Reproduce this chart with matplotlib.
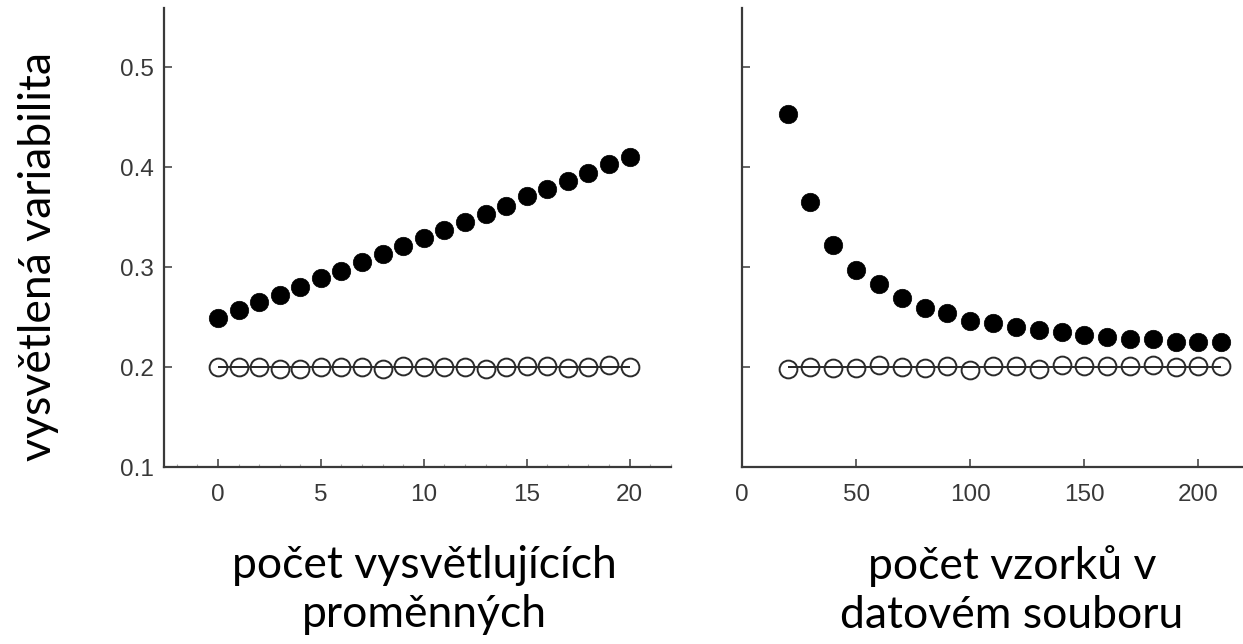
import matplotlib
matplotlib.use("Agg")
import matplotlib.pyplot as plt
from matplotlib.ticker import MultipleLocator

# ---------------- data ----------------
n_vars = list(range(0, 21))
explained_vars = [0.249, 0.257, 0.265, 0.272, 0.280, 0.289, 0.296, 0.305, 0.313, 0.321,
                  0.329, 0.337, 0.345, 0.353, 0.361, 0.371, 0.378, 0.386, 0.394, 0.403, 0.410]
true_vars = [0.200, 0.200, 0.200, 0.198, 0.198, 0.200, 0.200, 0.200, 0.198, 0.201,
             0.200, 0.200, 0.200, 0.198, 0.200, 0.201, 0.201, 0.199, 0.200, 0.202, 0.200]

n_samples = list(range(20, 211, 10))
explained_samples = [0.453, 0.365, 0.322, 0.297, 0.283, 0.269, 0.259, 0.254, 0.246, 0.244,
                     0.240, 0.237, 0.235, 0.232, 0.230, 0.228, 0.228, 0.225, 0.225, 0.225]
true_samples = [0.198, 0.200, 0.199, 0.199, 0.202, 0.200, 0.199, 0.201, 0.197, 0.201,
                0.201, 0.198, 0.202, 0.201, 0.201, 0.201, 0.202, 0.200, 0.201, 0.201]
true_level = 0.2

yticks = [0.1, 0.2, 0.3, 0.4, 0.5]
left_xticks = [0, 5, 10, 15, 20]
right_xticks = [0, 50, 100, 150, 200]

ylabel = "vysvětlená variabilita"
xlabel_left = "počet vysvětlujících\nproměnných"
xlabel_right = "počet vzorků v\ndatovém souboru"

# ---------------- figure ----------------
W, H = 1243, 644
fig = plt.figure(figsize=(W / 100, H / 100), dpi=100)

def px_axes(x0, x1, ytop, ybot):
    return fig.add_axes([x0 / W, (H - ybot) / H, (x1 - x0) / W, (ybot - ytop) / H])

axL = px_axes(163.5, 670.7, 8, 467)
axR = px_axes(742, 1243, 8, 467)

spine_col = "#3a3a3a"
tick_font = dict(family="Liberation Sans", size=17.5, color="#383838")
label_font = dict(family=["Lato", "DejaVu Sans"], size=32, color="black")

ms_fill = 13.3
ms_open = 12.8

for ax, xs, ys_f, ys_o in [(axL, n_vars, explained_vars, true_vars),
                            (axR, n_samples, explained_samples, true_samples)]:
    ax.hlines(true_level, xs[0], xs[-1], color="black", lw=1.2, zorder=2)
    ax.plot(xs, ys_o, "o", ms=ms_open, mfc="none", mec="#2a2a2a", mew=1.4,
            ls="none", zorder=3)
    ax.plot(xs, ys_f, "o", ms=ms_fill, mfc="black", mec="black", mew=0.5,
            ls="none", zorder=4)
    for s in ["top", "right"]:
        ax.spines[s].set_visible(False)
    for s in ["left", "bottom"]:
        ax.spines[s].set_color(spine_col)
        ax.spines[s].set_linewidth(1.6)
    ax.set_ylim(0.1, 0.559)
    ax.set_yticks(yticks)
    ax.tick_params(axis="both", which="major", direction="in", length=6,
                   width=1.1, color=spine_col)
    ax.tick_params(axis="y", pad=7)
    ax.tick_params(axis="x", pad=12)

axL.set_xlim(-2.65, 22.0)
axL.set_xticks(left_xticks)
axL.xaxis.set_minor_locator(MultipleLocator(1))
axL.tick_params(axis="x", which="minor", direction="in", length=2, width=0.8,
                color="#aaaaaa")
axL.set_yticklabels([f"{v:.1f}" for v in yticks], **tick_font)
axL.set_xticklabels([str(v) for v in left_xticks], **tick_font)

axR.set_xlim(0, 219.5)
axR.set_xticks(right_xticks)
axR.set_xticklabels([str(v) for v in right_xticks], **tick_font)
axR.set_yticklabels([])

axL.set_ylabel(ylabel, **label_font)
axL.yaxis.set_label_coords(-0.206, 0.459)

axL.set_xlabel(xlabel_left, linespacing=1.25, **label_font)
axL.xaxis.set_label_coords(0.514, -0.17)
axR.set_xlabel(xlabel_right, linespacing=1.25, **label_font)
axR.xaxis.set_label_coords(0.539, -0.17)

fig.savefig("out.png", dpi=100, facecolor="white")
